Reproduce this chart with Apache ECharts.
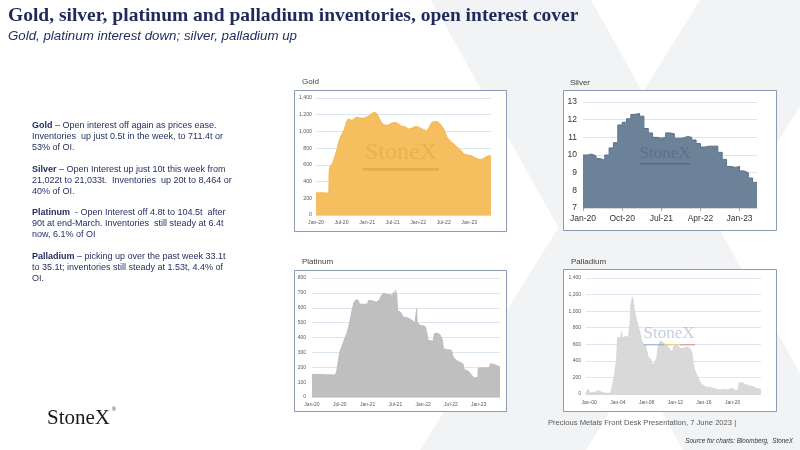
<!DOCTYPE html>
<html>
<head>
<meta charset="utf-8">
<script src="https://cdn.jsdelivr.net/npm/echarts@6/dist/echarts.min.js"></script>
<style>html,body{margin:0;padding:0;background:#fff}#c{width:800px;height:450px}</style>
</head>
<body>
<div id="c"></div>
<script>
// ---- Data ----
// Gold inventories (t); x = months since Jan-2020
var goldMonths = [0,1,2,2.8,3.0,3.1,3.3,3.6,3.9,4.4,4.9,5.5,6.0,6.6,7.2,7.6,8.0,8.4,8.9,9.6,10.0,10.4,11.1,12.1,13.1,13.7,14.3,14.8,15.5,16.2,17.0,17.8,18.6,19.4,20.2,21.2,21.7,22.5,23.3,24.3,25.3,26.0,26.6,27.2,28.0,28.8,29.6,30.1,30.7,31.5,32.3,33.1,33.9,34.7,35.8,36.6,37.4,38.2,39.0,39.8,40.5,41.1];
var goldValues = [265,266,265,262,265,520,580,600,620,700,780,900,960,1020,1120,1148,1140,1132,1150,1172,1165,1160,1160,1180,1212,1228,1212,1160,1100,1076,1076,1100,1108,1088,1060,1052,1028,1040,1060,1048,1020,1008,1052,1108,1120,1108,1060,1020,940,888,852,812,780,732,716,708,684,668,668,692,708,708];
// Silver inventories (kt), monthly from Jan-2020
var silverValues = [10.0,10.05,9.95,9.8,9.7,10.0,10.4,10.7,11.7,11.85,12.05,12.3,12.35,12.2,11.5,11.25,11.0,10.95,11.0,11.25,11.2,10.95,10.95,11.05,11.0,10.85,10.65,10.45,10.5,10.5,10.5,10.15,9.75,9.35,9.3,9.35,9.1,9.0,8.7,8.45];
// Platinum inventories (koz); x = months since Jan-2020
var platMonths = [0,2,3.2,5.0,5.3,5.7,6.0,6.4,6.9,7.5,8.0,8.3,8.7,9.1,9.5,10.0,10.2,11.4,12.0,12.2,13.2,13.9,14.5,15.0,15.5,16.1,16.8,17.4,17.6,17.8,18.0,18.3,18.5,19.1,19.7,20.7,21.1,21.7,22.2,22.5,22.6,22.7,23.3,24.4,24.7,25.1,26.2,26.4,26.9,27.6,28.1,28.4,29.3,30.1,30.5,31.2,31.9,32.6,32.9,33.7,34.5,35.0,35.8,35.9,38.3,38.5,39.5,39.8,40.6];
var platValues = [152,152,150,148,168,246,302,336,380,425,482,526,594,638,654,650,625,623,627,650,645,638,650,683,699,690,688,683,705,672,717,694,582,571,538,531,538,515,493,500,594,504,482,475,448,380,376,425,430,421,392,325,318,314,269,246,235,224,184,175,146,130,130,195,197,224,217,206,202];
// Palladium inventories (koz); x = years since Jan-2000
var pallYears = [-0.47,-0.3,-0.1,0,0.3,0.8,1.0,1.25,1.5,1.6,1.95,2.4,2.9,3.1,3.35,3.6,3.8,3.95,4.4,4.5,4.65,5.0,5.2,5.45,5.7,5.8,6.0,6.15,6.3,6.5,6.7,6.9,7.1,7.3,7.5,7.8,8.0,8.2,8.5,8.7,8.9,9.2,9.4,9.6,9.9,10.3,10.8,11.3,11.6,11.8,12.2,12.7,12.9,13.1,13.6,14.0,14.3,14.5,14.7,15.0,15.2,15.4,15.8,16.4,16.8,17.3,17.8,18.2,18.7,19.2,19.6,19.9,20.1,20.5,20.8,20.9,21.3,21.7,22.4,22.9,23.3,23.95];
var pallValues = [28,48,56,16,16,20,32,40,56,28,16,8,8,48,148,289,409,678,682,750,670,698,710,682,870,1071,1171,1131,1010,930,950,790,730,642,610,590,529,449,429,409,349,389,429,569,642,618,590,529,509,577,590,549,529,549,569,549,509,369,289,229,200,148,108,80,80,68,56,48,56,48,56,68,48,40,56,136,136,116,96,88,68,56];
var pallTickYears = [0,4,8,12,16,20];
var monthNames = ['Jan','Feb','Mar','Apr','May','Jun','Jul','Aug','Sep','Oct','Nov','Dec'];

function zip(xs, ys){ return xs.map(function(x,i){ return [x, ys[i]]; }); }
function monthLabel(v){ var m = Math.round(v); return monthNames[m % 12] + '-' + (20 + Math.floor(m / 12)); }

var silverData = silverValues.map(function(v,i){ return [i, v]; });
silverData.push([silverValues.length, silverValues[silverValues.length-1]]);

var FONT = 'Liberation Sans';
var NAVY = '#1f2a5c';
var gridLine = {show:true, lineStyle:{color:'#dce6f1', width:1}};

function smallX(idx, interval, max, fs, margin, color){
  return {type:'value', gridIndex:idx, min:0, max:max, interval:interval,
    splitLine:{show:false}, axisTick:{show:false},
    axisLine:{show:true, lineStyle:{color:'#d9d9d9'}},
    axisLabel:{fontSize:fs, fontFamily:FONT, color:color, margin:margin, showMaxLabel:false,
      formatter:function(v){ return (Math.abs(v % interval) < 1e-6) ? monthLabel(v) : ''; }}};
}

var chart = echarts.init(document.getElementById('c'), null, {renderer:'canvas'});

var bodyRich = {b:{fontWeight:'bold', fontSize:9, fontFamily:FONT, fill:NAVY, lineHeight:11}};
var graphics = [
  // background big X watermark
  {type:'polygon', z:-5, silent:true, shape:{points:[[431,0],[591,0],[843,450],[683,450]]}, style:{fill:'#f2f3f5'}},
  {type:'polygon', z:-5, silent:true, shape:{points:[[700,0],[866,0],[586,450],[420,450]]}, style:{fill:'#f2f3f5'}},
  // chart frames
  {type:'rect', z:-1, shape:{x:294.5,y:90.5,width:212,height:141}, style:{fill:'#fff', stroke:'#8c9ab3', lineWidth:1}},
  {type:'rect', z:-1, shape:{x:563.5,y:90.5,width:213,height:140}, style:{fill:'#fff', stroke:'#8c9ab3', lineWidth:1}},
  {type:'rect', z:-1, shape:{x:294.5,y:270.5,width:212,height:141}, style:{fill:'#fff', stroke:'#8c9ab3', lineWidth:1}},
  {type:'rect', z:-1, shape:{x:563.5,y:269.5,width:213,height:142}, style:{fill:'#fff', stroke:'#8c9ab3', lineWidth:1}},
  // chart titles
  {type:'text', z:5, x:302, y:82, style:{text:'Gold', fontSize:8, fontFamily:FONT, fill:'#404040', verticalAlign:'middle'}},
  {type:'text', z:5, x:570, y:83, style:{text:'Silver', fontSize:8, fontFamily:FONT, fill:'#404040', verticalAlign:'middle'}},
  {type:'text', z:5, x:302, y:262, style:{text:'Platinum', fontSize:8, fontFamily:FONT, fill:'#404040', verticalAlign:'middle'}},
  {type:'text', z:5, x:571, y:262, style:{text:'Palladium', fontSize:8, fontFamily:FONT, fill:'#404040', verticalAlign:'middle'}},
  // watermarks in charts
  {type:'text', z:5, silent:true, x:401, y:153, style:{text:'StoneX', fontSize:24, fontFamily:'Liberation Serif', fill:'rgba(190,130,40,0.22)', align:'center', verticalAlign:'middle'}},
  {type:'rect', z:5, silent:true, shape:{x:363,y:168,width:76,height:2.5}, style:{fill:'rgba(190,120,40,0.28)'}},
  {type:'text', z:5, silent:true, x:665, y:154, style:{text:'StoneX', fontSize:17, fontFamily:'Liberation Serif', fill:'rgba(60,80,110,0.35)', align:'center', verticalAlign:'middle'}},
  {type:'rect', z:5, silent:true, shape:{x:640,y:163,width:50,height:1.5}, style:{fill:'rgba(60,75,100,0.45)'}},
  {type:'text', z:5, silent:true, x:669, y:334, style:{text:'StoneX', fontSize:17, fontFamily:'Liberation Serif', fill:'rgba(150,165,195,0.55)', align:'center', verticalAlign:'middle'}},
  {type:'rect', z:5, silent:true, shape:{x:644,y:344,width:20,height:1.5}, style:{fill:'rgba(120,150,200,0.5)'}},
  {type:'rect', z:5, silent:true, shape:{x:664,y:344,width:16,height:1.5}, style:{fill:'rgba(230,200,80,0.6)'}},
  {type:'rect', z:5, silent:true, shape:{x:680,y:344,width:15,height:1.5}, style:{fill:'rgba(220,100,90,0.5)'}},
  // slide title and subtitle
  {type:'text', z:5, x:8, y:15.5, style:{text:'Gold, silver, platinum and palladium inventories, open interest cover', fontSize:19.5, fontWeight:'bold', fontFamily:'Liberation Serif', fill:NAVY, verticalAlign:'middle'}},
  {type:'text', z:5, x:8, y:36.5, style:{text:'Gold, platinum interest down; silver, palladium up', fontSize:13.3, fontStyle:'italic', fontFamily:FONT, fill:NAVY, verticalAlign:'middle'}},
  // commentary
  {type:'text', z:5, x:32, y:120.5, style:{text:'{b|Gold} – Open interest off again as prices ease.\nInventories  up just 0.5t in the week, to 711.4t or\n53% of OI.', fontSize:9, fontFamily:FONT, fill:NAVY, lineHeight:11, rich:bodyRich}},
  {type:'text', z:5, x:32, y:164.5, style:{text:'{b|Silver} – Open Interest up just 10t this week from\n21,022t to 21,033t.  Inventories  up 20t to 8,464 or\n40% of OI.', fontSize:9, fontFamily:FONT, fill:NAVY, lineHeight:11, rich:bodyRich}},
  {type:'text', z:5, x:32, y:207.5, style:{text:'{b|Platinum}  - Open Interest off 4.8t to 104.5t  after\n90t at end-March. Inventories  still steady at 6.4t\nnow, 6.1% of OI', fontSize:9, fontFamily:FONT, fill:NAVY, lineHeight:11, rich:bodyRich}},
  {type:'text', z:5, x:32, y:251.5, style:{text:'{b|Palladium} – picking up over the past week 33.1t\nto 35.1t; inventories still steady at 1.53t, 4.4% of\nOI.', fontSize:9, fontFamily:FONT, fill:NAVY, lineHeight:11, rich:bodyRich}},
  // footer
  {type:'text', z:5, x:47, y:418, style:{text:'StoneX', fontSize:21, fontFamily:'Liberation Serif', fill:'#1a1a1a', verticalAlign:'middle'}},
  {type:'text', z:5, x:112, y:410, style:{text:'®', fontSize:5, fontFamily:FONT, fill:'#1a1a1a', verticalAlign:'middle'}},
  {type:'text', z:5, x:548, y:423, style:{text:'Precious Metals Front Desk Presentation, 7 June 2023 |', fontSize:7.6, fontFamily:FONT, fill:'#595959', verticalAlign:'middle'}},
  {type:'text', z:5, x:793, y:441, style:{text:'Source for charts: Bloomberg,  StoneX', fontSize:6.3, fontStyle:'italic', fontFamily:FONT, fill:'#333', align:'right', verticalAlign:'middle'}}
];

var option = {
  backgroundColor:'#ffffff',
  animation:false,
  graphic:{elements:graphics},
  grid:[
    {left:316, top:98, width:175, height:117},
    {left:583, top:102, width:174, height:106},
    {left:312, top:278, width:188, height:119},
    {left:586, top:278, width:175, height:116}
  ],
  xAxis:[
    smallX(0, 6, 41.1, 5.2, 5, '#595959'),
    {type:'value', gridIndex:1, min:0, max:40, interval:9,
      splitLine:{show:false},
      axisTick:{show:true, length:3, lineStyle:{color:'#a6a6a6'}},
      axisLine:{show:true, lineStyle:{color:'#d9d9d9'}},
      axisLabel:{fontSize:8.5, fontFamily:FONT, color:'#333', margin:6, showMaxLabel:false,
        formatter:function(v){ return (v % 9 === 0) ? monthLabel(v) : ''; }}},
    smallX(2, 6, 40.6, 5, 5, '#595959'),
    {type:'value', gridIndex:3, min:-0.45, max:23.95,
      splitLine:{show:false}, axisTick:{show:false},
      axisLine:{show:true, lineStyle:{color:'#d9d9d9'}},
      axisLabel:{fontSize:5, fontFamily:FONT, color:'#595959', margin:6,
        customValues:pallTickYears,
        formatter:function(v){ var y = Math.round(v); return 'Jan-' + (y < 10 ? '0' + y : '' + y); }}}
  ],
  yAxis:[
    {type:'value', gridIndex:0, min:0, max:1400, interval:200, splitLine:gridLine, axisLine:{show:false}, axisTick:{show:false},
      axisLabel:{fontSize:5.2, fontFamily:FONT, color:'#595959', margin:4}},
    {type:'value', gridIndex:1, min:7, max:13, interval:1, splitLine:gridLine, axisLine:{show:false}, axisTick:{show:false},
      axisLabel:{fontSize:8.5, fontFamily:FONT, color:'#333', margin:6}},
    {type:'value', gridIndex:2, min:0, max:800, interval:100, splitLine:gridLine, axisLine:{show:false}, axisTick:{show:false},
      axisLabel:{fontSize:5, fontFamily:FONT, color:'#595959', margin:6}},
    {type:'value', gridIndex:3, min:0, max:1400, interval:200, splitLine:gridLine, axisLine:{show:false}, axisTick:{show:false},
      axisLabel:{fontSize:5, fontFamily:FONT, color:'#595959', margin:5,
        formatter:function(v){ return v.toLocaleString('en-US'); }}}
  ],
  series:[
    {type:'line', name:'Gold', xAxisIndex:0, yAxisIndex:0, data:zip(goldMonths, goldValues), showSymbol:false, smooth:0.2,
      lineStyle:{width:1, color:'#f3b94e'}, itemStyle:{color:'#f3b94e'}, areaStyle:{color:'#f5be5e', opacity:1}},
    {type:'line', name:'Silver', xAxisIndex:1, yAxisIndex:1, data:silverData, showSymbol:false, step:'end',
      lineStyle:{width:1, color:'#5b7189'}, itemStyle:{color:'#5b7189'}, areaStyle:{color:'#6b8299', opacity:1}},
    {type:'line', name:'Platinum', xAxisIndex:2, yAxisIndex:2, data:zip(platMonths, platValues), showSymbol:false,
      lineStyle:{width:0.8, color:'#b8b8b8'}, itemStyle:{color:'#b8b8b8'}, areaStyle:{color:'#bfbfbf', opacity:1}},
    {type:'line', name:'Palladium', xAxisIndex:3, yAxisIndex:3, data:zip(pallYears, pallValues), showSymbol:false,
      lineStyle:{width:0.8, color:'#d4d4d4'}, itemStyle:{color:'#d4d4d4'}, areaStyle:{color:'#d9d9d9', opacity:1}}
  ]
};
chart.setOption(option);
</script>
</body>
</html>
